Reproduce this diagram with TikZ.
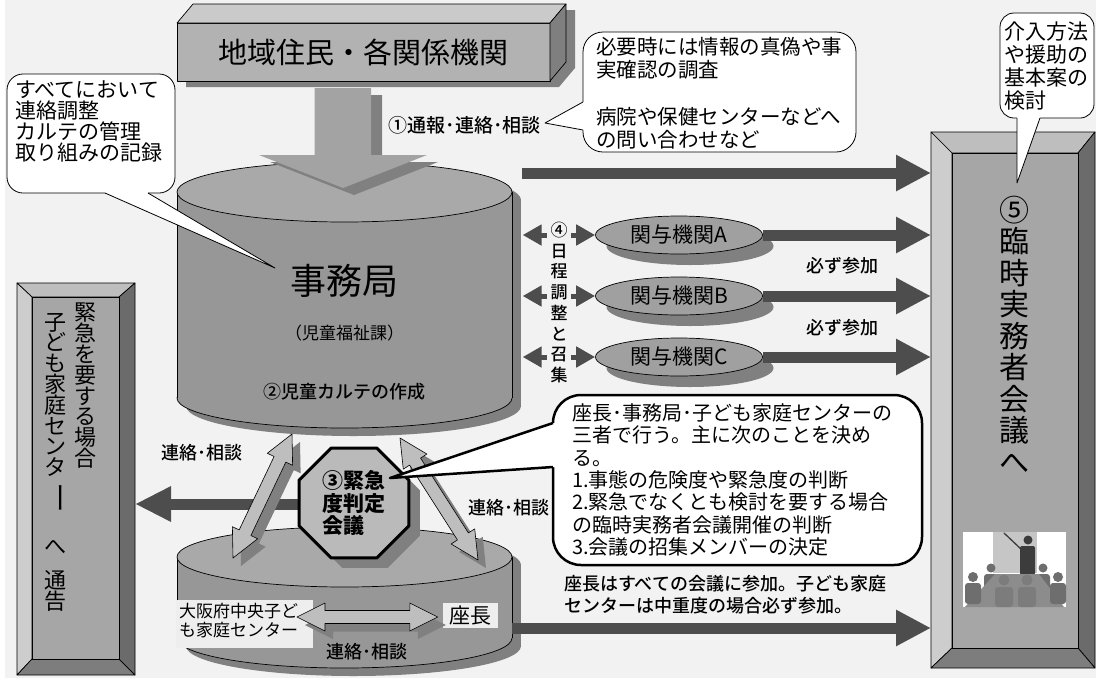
\documentclass[tikz,border=0pt]{standalone}
\usepackage{fontspec}
\usepackage{graphicx}
\setmainfont{Noto Sans CJK JP}
\newfontfamily\medfont{Noto Sans CJK JP Medium}
\usetikzlibrary{arrows.meta,calc,shapes.geometric}

\definecolor{bgc}{HTML}{F2F2F2}
\definecolor{darkc}{HTML}{4D4D4D}
\definecolor{shadec}{HTML}{808080}
\definecolor{cyltopc}{HTML}{A9A9A9}
\definecolor{cylbodyc}{HTML}{979797}
\definecolor{facec}{HTML}{A6A6A6}
\definecolor{bevlc}{HTML}{CDCDCD}
\definecolor{bevtc}{HTML}{BEBEBE}
\definecolor{bevrc}{HTML}{6B6B6B}
\definecolor{bevbc}{HTML}{7D7D7D}
\definecolor{linkc}{HTML}{BEBEBE}
\definecolor{tagc}{HTML}{EEEEEE}
\definecolor{ovalc}{HTML}{A0A0A0}
\definecolor{octfillc}{HTML}{BABABA}
\definecolor{frontc}{HTML}{B2B2B2}
\definecolor{roofc}{HTML}{CACACA}
\definecolor{sidec}{HTML}{7F7F7F}
\definecolor{downc}{HTML}{A3A3A3}
\definecolor{screenc}{HTML}{C6C6C6}
\definecolor{figc}{HTML}{3C3C3C}
\definecolor{crowdc}{HTML}{6E6E6E}
\definecolor{tablec}{HTML}{8C8C8C}

% font size / line pitch in pt (1pt = 1px of the layout)
\newcommand{\fsz}[2]{\fontsize{#1pt}{#2pt}\selectfont\lineskiplimit=-100pt\relax}

% bevelled frame: outer x1 y1 x2 y2, inner x1 y1 x2 y2
\newcommand{\bevelbox}[8]{%
  \filldraw[fill=bevtc, line width=0.7pt] (#1,#2) -- (#3,#2) -- (#7,#6) -- (#5,#6) -- cycle;
  \filldraw[fill=bevlc, line width=0.7pt] (#1,#2) -- (#5,#6) -- (#5,#8) -- (#1,#4) -- cycle;
  \filldraw[fill=bevrc, line width=0.7pt] (#3,#2) -- (#3,#4) -- (#7,#8) -- (#7,#6) -- cycle;
  \filldraw[fill=bevbc, line width=0.7pt] (#1,#4) -- (#5,#8) -- (#7,#8) -- (#3,#4) -- cycle;
  \filldraw[fill=facec, line width=0.7pt] (#5,#6) rectangle (#7,#8);
}

% drum: centre x, half width, top ellipse y, bottom ellipse y
\newcommand{\drum}[4]{%
  \fill[shadec] ({#1+9},{#3+8}) ellipse [x radius=#2pt, y radius=30pt];
  \fill[shadec] ({#1-#2+9},{#3+8}) rectangle ({#1+#2+9},{#4+8});
  \fill[shadec] ({#1+9},{#4+8}) ellipse [x radius=#2pt, y radius=30pt];
  \filldraw[fill=cylbodyc, line width=0.7pt] (#1,#4) ellipse [x radius=#2pt, y radius=30pt];
  \fill[cylbodyc] ({#1-#2},#3) rectangle ({#1+#2},#4);
  \draw[line width=0.7pt] ({#1-#2},#3) -- ({#1-#2},#4) ({#1+#2},#3) -- ({#1+#2},#4);
  \filldraw[fill=cyltopc, line width=0.7pt] (#1,#3) ellipse [x radius=#2pt, y radius=30pt];
}

% outlined double-headed block arrow between two points
\newcommand{\linkpoly}[3]{%
  \path[#1] (#2)
    -- ($(#2)!28pt!(#3)!14pt!90:(#3)$)
    -- ($(#2)!28pt!(#3)!6.5pt!90:(#3)$)
    -- ($(#3)!28pt!(#2)!6.5pt!-90:(#2)$)
    -- ($(#3)!28pt!(#2)!14pt!-90:(#2)$)
    -- (#3)
    -- ($(#3)!28pt!(#2)!14pt!90:(#2)$)
    -- ($(#3)!28pt!(#2)!6.5pt!90:(#2)$)
    -- ($(#2)!28pt!(#3)!6.5pt!-90:(#3)$)
    -- ($(#2)!28pt!(#3)!14pt!-90:(#3)$)
    -- cycle;}
\newcommand{\linkarrow}[2]{%
  \coordinate (sh1) at ($(#1)+(8,8)$);
  \coordinate (sh2) at ($(#2)+(8,8)$);
  \linkpoly{fill=shadec}{sh1}{sh2}
  \linkpoly{fill=linkc, draw=black, line width=0.6pt}{#1}{#2}}

\tikzset{
  darkarrow/.style={draw=darkc, line width=11pt, -{Triangle[length=35pt,width=34pt]}},
  headpair/.style={draw=darkc, line width=5pt,
    {Triangle[length=19pt,width=20pt]}-{Triangle[length=19pt,width=20pt]}},
  lbltext/.style={inner sep=0pt, font=\fsz{18}{20}\medfont},
  vcol/.style={inner sep=0pt, align=center},
  bubble/.style={fill=white, draw=black, line width=0.8pt, rounded corners=#1},
}

\begin{document}
\begin{tikzpicture}[x=1pt, y=-1pt, line join=round]
\useasboundingbox (0,0) rectangle (1096,681);
\fill[white] (0,0) rectangle (1096,681);
\fill[bgc] (5,0) rectangle (1096,678);

% ---------- left frame: emergency notification ----------
\bevelbox{17}{283}{135}{675}{32}{297}{119}{659}
\node[inner sep=0pt, outer sep=0pt, minimum width=118pt, minimum height=392pt, anchor=north west] (lbox) at (17,283) {};
\node[vcol, font=\fsz{22}{20.8}] (lcolA) at (85,385.8) {緊\\急\\を\\要\\す\\る\\場\\合};
\node[vcol, font=\fsz{22}{20.8}] (lcolB) at (56,394.8) {子\\ど\\も\\家\\庭\\セ\\ン\\タ};
\node[inner sep=0pt, font=\fsz{22}{22}] (lbar) at (56,498) {\rotatebox{-90}{\scalebox{1.4}[1.2]{ー}}};
\node[inner sep=0pt, font=\fsz{22}{22}] (lhe) at (56,547) {へ};
\node[inner sep=0pt, font=\fsz{22}{22}] (ltsu) at (56,580) {通};
\node[inner sep=0pt, font=\fsz{22}{22}] (lkoku) at (56,601) {告};

% ---------- right frame: meeting ----------
\bevelbox{931}{132}{1095}{668}{952}{153}{1078}{648}
\node[inner sep=0pt, outer sep=0pt, minimum width=164pt, minimum height=536pt, anchor=north west] (rbox) at (931,132) {};
\node[vcol, font=\fsz{30}{31.5}] (rtitle) at (1014,334.5) {⑤\\臨\\時\\実\\務\\者\\会\\議\\へ};

% meeting pictogram
\fill[white] (963,532) rectangle (1066,607);
\fill[screenc] (993,532) rectangle (1037,573);
\draw[figc, line width=1.3pt, line cap=round] (1022,550) -- (1004,533);
\fill[figc] (1028,540) circle [radius=4.5pt];
\fill[figc, rounded corners=2pt] (1020,546) rectangle (1035,575);
\fill[crowdc] (991,568) circle [radius=4.5pt];
\fill[crowdc, rounded corners=3pt] (984,574) rectangle (998,592);
\fill[crowdc] (1043,568) circle [radius=4.5pt];
\fill[crowdc, rounded corners=3pt] (1036,574) rectangle (1050,592);
\fill[tablec] (965,607) -- (995,574) -- (1039,574) -- (1064,607) -- cycle;
\fill[crowdc] (973,577) circle [radius=5pt];
\fill[crowdc, rounded corners=3pt] (965,583) rectangle (981,604);
\fill[crowdc] (1058,577) circle [radius=5pt];
\fill[crowdc, rounded corners=3pt] (1050,583) rectangle (1066,604);
\fill[crowdc!90!white] (1004,580) circle [radius=5.5pt];
\fill[crowdc!90!white, rounded corners=3pt] (995,587) rectangle (1013,607);
\fill[crowdc!90!white] (1027,580) circle [radius=5.5pt];
\fill[crowdc!90!white, rounded corners=3pt] (1018,587) rectangle (1036,607);

% ---------- top block ----------
\fill[shadec] (186,29) -- (202,10) -- (575,10) -- (575,68) -- (559,87) -- (186,87) -- cycle;
\node[draw, fill=frontc, line width=0.7pt, inner sep=0pt, outer sep=0pt,
      minimum width=373pt, minimum height=58pt, anchor=north west,
      font=\fsz{29}{31}] (komin) at (177,23) {地域住民・各関係機関};
\filldraw[fill=roofc, line width=0.7pt] (komin.north west) -- ++(16,-19) -- ++(373,0) -- (komin.north east) -- cycle;
\filldraw[fill=sidec, line width=0.7pt] (komin.north east) -- ++(16,-19) -- ++(0,58) -- (komin.south east) -- cycle;

% ---------- secretariat drum ----------
\drum{344.5}{167.5}{192}{398}
\node[inner sep=0pt, font=\fsz{36}{38}] (jim) at (344.5,281) {事務局};
\node[inner sep=0pt, font=\fsz{17}{19}] (jimsub) at (344.5,333) {（児童福祉課）};
\node[lbltext] (karte) at (344.5,392) {②児童カルテの作成};

% block arrow from the top block into the drum
\fill[shadec] (325.5,95) -- (382,95) -- (382,162) -- (438,162) -- (354,195) -- (270,162) -- (325.5,162) -- cycle;
\fill[downc] (314.5,88) -- (371,88) -- (371,155) -- (427,155) -- (343,188) -- (259,155) -- (314.5,155) -- cycle;

% ---------- callouts ----------
\draw[bubble=16pt] (7,74) rectangle (175,193);
\fill[white] (105,188) -- (105,193) -- (275,268) -- (148,193) -- (148,188) -- cycle;
\draw[line width=0.8pt] (105,193) -- (275,268) -- (148,193);
\node[anchor=west, inner sep=0pt, align=left, font=\fsz{21}{21}] (noteL) at (15,121)
  {すべてにおいて\\連絡調整\\カルテの管理\\取り組みの記録};

\draw[bubble=20pt] (583,32) rectangle (856,152);
\fill[white] (588,102) -- (583,102) -- (545,123) -- (583,130) -- (588,130) -- cycle;
\draw[line width=0.8pt] (583,102) -- (545,123) -- (583,130);
\node[anchor=west, inner sep=0pt, align=left, font=\fsz{20.5}{23.3}] (noteT) at (596,93.5)
  {必要時には情報の真偽や事\\実確認の調査\\[23.3pt]病院や保健センターなどへ\\の問い合わせなど};

\draw[bubble=14pt] (1000,13) rectangle (1094,118);
\fill[white] (1017,113) -- (1017,118) -- (1017,183) -- (1040,118) -- (1040,113) -- cycle;
\draw[line width=0.8pt] (1017,118) -- (1017,183) -- (1040,118);
\node[anchor=west, inner sep=0pt, align=left, font=\fsz{21}{23}] (noteR) at (1004,66.5)
  {介入方法\\や援助の\\基本案の\\検討};

\node[lbltext, anchor=east, font=\fsz{19}{20}\medfont] (tsuho) at (541,125) {①通報･連絡･相談};

% ---------- arrows to the meeting ----------
\coordinate (a1) at (522,173);
\draw[darkarrow] (a1) -- (a1 -| rbox.west);

\foreach \k/\yy in {A/235,B/296,C/357}{
  \fill[shadec] (690,{\yy+11}) ellipse [x radius=83.5pt, y radius=19pt];
  \node[ellipse, draw, line width=0.7pt, fill=ovalc, minimum width=167pt, minimum height=38pt,
        inner sep=0pt, font=\fsz{21}{22}] (k\k) at (679,\yy) {関与機関\k};
  \draw[darkarrow] (k\k.east) -- (k\k.east -| rbox.west);
  \draw[headpair] ($(k\k.west)+(-72.5,0)$) -- (k\k.west);
}
\node[vcol, fill=bgc, minimum width=24pt, font=\fsz{17}{20.7}\medfont] (chosei) at (559,302.5)
  {④\\日\\程\\調\\整\\と\\召\\集};
\node[lbltext] (sanka1) at (842,266) {必ず参加};
\node[lbltext] (sanka2) at (842,328) {必ず参加};

% ---------- lower drum: chair and child centre ----------
\drum{344.5}{167.5}{557}{638}
\node[fill=tagc, inner sep=0pt, outer sep=0pt, minimum width=137pt, minimum height=48pt, anchor=north west] (osaka) at (176,600) {};
\node[anchor=west, inner sep=0pt, align=left, font=\fsz{17}{19}] (osakaT) at (179,620.5) {大阪府中央子ど\\も家庭センター};
\node[fill=tagc, inner sep=0pt, minimum width=55pt, minimum height=25pt, font=\fsz{21}{22}] (zacho) at (470.5,615.5) {座長};
\coordinate (h1) at (297,617);
\coordinate (h2) at ($(zacho.west)+(-5,1.5)$);
\linkarrow{h1}{h2}
\node[lbltext] (renraku3) at (367,652) {連絡･相談};

\coordinate (c2E) at (512,628);
\draw[darkarrow] (c2E) -- (c2E -| rbox.west);

% ---------- urgency meeting ----------
\coordinate (octmid) at (354,503);
\draw[darkarrow, -{Triangle[length=36pt,width=33pt]}] ($(octmid)+(0,1)$) -- ($(octmid -| lbox.east)+(0,1)$);
\node[regular polygon, regular polygon sides=8, minimum size=119pt, fill=shadec, inner sep=0pt] at ($(octmid)+(11,10)$) {};
\node[regular polygon, regular polygon sides=8, minimum size=119pt, draw, line width=3pt, fill=octfillc,
      inner sep=0pt, align=left, font=\fsz{21}{22.5}\bfseries] (oct) at (octmid) {③緊急\\度判定\\会議};

\coordinate (l1) at (233,558);
\coordinate (l2) at (292,434);
\linkarrow{l1}{l2}
\coordinate (r1) at (400,438);
\coordinate (r2) at (478,560);
\linkarrow{r1}{r2}
\node[lbltext] (renraku1) at (202,453) {連絡･相談};
\node[lbltext] (renraku2) at (509,508) {連絡･相談};

% ---------- speech bubble of the urgency meeting ----------
\draw[bubble=28pt, line width=2.5pt] (553,395) rectangle (922,565);
\fill[white] (553,423) -- (390,478) -- (553,467) -- (560,467) -- (560,423) -- cycle;
\draw[line width=2.5pt] (553,423) -- (390,478) -- (553,467);
\node[anchor=west, inner sep=0pt, align=left, font=\fsz{20}{22.3}] (noteB) at (572,480)
  {座長･事務局･子ども家庭センターの\\三者で行う。主に次のことを決め\\る。\\1.事態の危険度や緊急度の判断\\2.緊急でなくとも検討を要する場合\\の臨時実務者会議開催の判断\\3.会議の招集メンバーの決定};

\node[lbltext, anchor=west, align=left, font=\fsz{18}{22}\medfont] (chair) at (564,595)
  {座長はすべての会議に参加。子ども家庭\\センターは中重度の場合必ず参加。};
\end{tikzpicture}
\end{document}
